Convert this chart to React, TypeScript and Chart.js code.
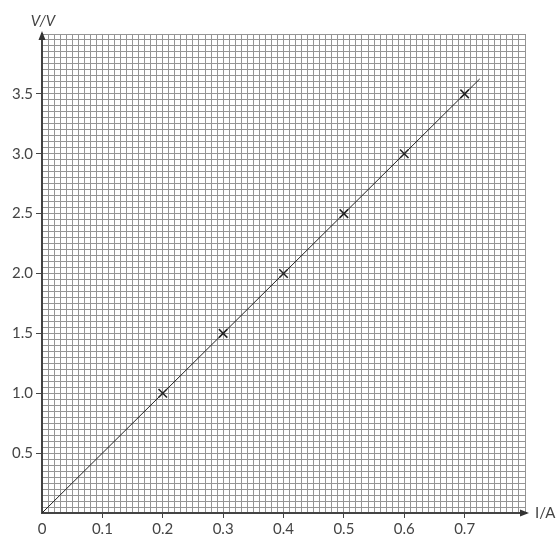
import React, { useEffect, useRef } from "react";
import { Chart, registerables } from "chart.js";

Chart.register(...registerables);

const currentA = [0.2, 0.3, 0.4, 0.5, 0.6, 0.7];
const voltageV = [1.0, 1.5, 2.0, 2.5, 3.0, 3.5];
const fitLineX = [0, 0.725];
const fitLineY = [0, 3.625];
const xLabelValues = [0, 0.1, 0.2, 0.3, 0.4, 0.5, 0.6, 0.7];
const yLabelValues = [0.5, 1.0, 1.5, 2.0, 2.5, 3.0, 3.5];

const FONT = "Lato, 'Open Sans', sans-serif";
const TEXT = "#444";

function isIn(list: number[], v: number) {
  return list.some((l) => Math.abs(l - v) < 1e-6);
}

const arrowPlugin = {
  id: "arrows",
  afterDraw(chart: any) {
    const { ctx, chartArea } = chart;
    const { left, bottom, top, right } = chartArea;
    ctx.save();
    ctx.fillStyle = "#333";
    ctx.strokeStyle = "#444";
    // y arrow
    ctx.beginPath();
    ctx.moveTo(left, top - 3);
    ctx.lineTo(left - 3.5, top + 6);
    ctx.lineTo(left + 3.5, top + 6);
    ctx.closePath();
    ctx.fill();
    // x arrow
    ctx.lineWidth = 2;
    ctx.beginPath();
    ctx.moveTo(right - 4, bottom);
    ctx.lineTo(right + 2, bottom);
    ctx.stroke();
    ctx.beginPath();
    ctx.moveTo(right + 4, bottom);
    ctx.lineTo(right - 5, bottom - 3.5);
    ctx.lineTo(right - 5, bottom + 3.5);
    ctx.closePath();
    ctx.fill();
    // axis titles
    ctx.fillStyle = TEXT;
    ctx.font = `italic 15px ${FONT}`;
    ctx.textAlign = "center";
    ctx.textBaseline = "middle";
    ctx.fillText("V/V", left + 1, 21);
    ctx.font = `15px ${FONT}`;
    ctx.textAlign = "left";
    ctx.fillText("I/A", right + 10, bottom);
    ctx.restore();
  },
};

export default function App() {
  const ref = useRef<HTMLCanvasElement>(null);
  useEffect(() => {
    document.body.style.margin = "0";
    if (!ref.current) return;
    const chart = new Chart(ref.current, {
      type: "scatter",
      data: {
        datasets: [
          {
            data: fitLineX.map((x, i) => ({ x, y: fitLineY[i] })),
            showLine: true,
            borderColor: "#222",
            borderWidth: 1,
            pointRadius: 0,
          },
          {
            data: currentA.map((x, i) => ({ x, y: voltageV[i] })),
            showLine: false,
            pointStyle: "crossRot",
            pointRadius: 6,
            borderColor: "#222",
            borderWidth: 1.5,
          },
        ],
      },
      options: {
        responsive: false,
        animation: false,
        layout: { padding: { top: 34, right: 32, left: 0, bottom: 0 } },
        plugins: { legend: { display: false }, tooltip: { enabled: false } },
        scales: {
          x: {
            type: "linear",
            min: 0,
            max: 0.8,
            afterFit: (s: any) => {
              s.height = 24;
            },
            border: { color: "#444", width: 2 },
            grid: {
              color: "#959595",
              lineWidth: 1,
              tickLength: 5,
              tickColor: (c: any) =>
                isIn(xLabelValues, c.tick?.value ?? -1) && c.tick.value > 0 ? "#444" : "rgba(0,0,0,0)",
            },
            ticks: {
              stepSize: 0.01,
              autoSkip: false,
              maxRotation: 0,
              maxTicksLimit: 1000,
              padding: 2,
              color: TEXT,
              font: { family: FONT, size: 15 },
              callback: (v: any) => {
                const n = Number(v);
                if (!isIn(xLabelValues, n)) return "";
                return n === 0 ? "0" : n.toFixed(1);
              },
            },
          },
          y: {
            type: "linear",
            min: 0,
            max: 4.0,
            afterFit: (s: any) => {
              s.width = 42;
            },
            border: { color: "#444", width: 2 },
            grid: {
              color: "#959595",
              lineWidth: 1,
              tickLength: 6,
              tickColor: (c: any) =>
                isIn(yLabelValues, c.tick?.value ?? -1) ? "#444" : "rgba(0,0,0,0)",
            },
            ticks: {
              stepSize: 0.05,
              autoSkip: false,
              maxTicksLimit: 1000,
              padding: 3,
              color: TEXT,
              font: { family: FONT, size: 15 },
              callback: (v: any) => {
                const n = Number(v);
                if (!isIn(yLabelValues, n)) return "";
                return n.toFixed(1);
              },
            },
          },
        },
      },
      plugins: [arrowPlugin],
    });
    return () => chart.destroy();
  }, []);
  return (
    <div style={{ width: 557, height: 537 }}>
      <canvas ref={ref} width={557} height={537} />
    </div>
  );
}
